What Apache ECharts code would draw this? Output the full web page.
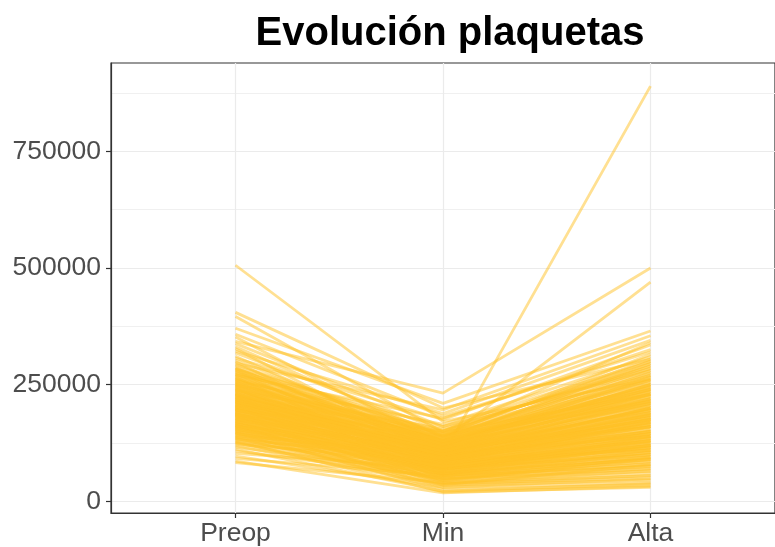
<!DOCTYPE html>
<html>
<head>
<meta charset="utf-8">
<script src="https://cdn.jsdelivr.net/npm/echarts@6/dist/echarts.min.js"></script>
<style>
    html, body { margin: 0; padding: 0; background: #fff; }
    #myChart { width: 775px; height: 547px; }
</style>
</head>
<body>
<div id="myChart"></div>
<script>
    // momentos de medida
    var momentos = ['Preop', 'Min', 'Alta'];
    var yTicks = [0, 250000, 500000, 750000];
    var yMinor = [125000, 375000, 625000, 875000];

    // plaquetas por paciente
    var preop = [
        506000, 405000, 396000, 371000, 358000, 352000, 343000, 338000, 331000, 327000,
        322000, 318000, 311000, 307000, 303000, 299000, 296000, 291000, 287000, 284000,
        281000, 279000, 276000, 273000, 271000, 268000, 266000, 263000, 261000, 258000,
        256000, 254000, 251000, 249000, 247000, 245000, 243000, 240000, 238000, 236000,
        235000, 233000, 231000, 229000, 227000, 225000, 224000, 222000, 220000, 218000,
        217000, 215000, 213000, 212000, 210000, 208000, 207000, 205000, 203000, 202000,
        200000, 198000, 197000, 195000, 194000, 192000, 190000, 189000, 187000, 186000,
        184000, 183000, 181000, 180000, 178000, 176000, 175000, 173000, 172000, 170000,
        169000, 167000, 166000, 164000, 163000, 161000, 160000, 158000, 157000, 155000,
        154000, 152000, 150000, 149000, 147000, 146000, 144000, 142000, 141000, 139000,
        137000, 135000, 133000, 131000, 129000, 127000, 125000, 122000, 119000, 116000,
        112000, 108000, 103000, 97000, 92000, 86000, 83000, 229000, 262000, 195000,
        285000, 241000, 199000, 168000, 214000, 256000, 177000, 226000, 148000, 293000,
        188000, 232000, 159000, 205000, 272000, 219000, 183000, 138000, 249000, 196000,
        211000, 265000, 174000, 228000, 153000, 190000, 242000, 206000, 163000, 277000,
        221000, 185000, 250000, 135000, 201000, 237000, 171000, 215000, 259000, 145000,
        192000, 230000, 166000, 208000, 283000, 178000, 223000, 156000, 246000, 197000,
        213000, 270000, 182000, 126000, 239000, 203000, 162000, 253000, 187000, 218000
    ];
    var minimo = [
        171000, 200000, 148000, 210000, 182000, 121000, 232000, 160000, 138000, 96000,
        188000, 152000, 112000, 175000, 130000, 84000, 196000, 142000, 105000, 160000,
        70000, 125000, 150000, 98000, 178000, 115000, 62000, 140000, 100000, 165000,
        88000, 120000, 145000, 76000, 110000, 132000, 55000, 102000, 155000, 92000,
        118000, 68000, 140000, 105000, 82000, 125000, 48000, 96000, 150000, 110000,
        74000, 130000, 90000, 58000, 115000, 100000, 135000, 80000, 40000, 105000,
        122000, 88000, 66000, 112000, 140000, 95000, 52000, 108000, 80000, 128000,
        35000, 98000, 72000, 115000, 90000, 60000, 104000, 125000, 45000, 85000,
        110000, 70000, 95000, 30000, 100000, 78000, 118000, 56000, 88000, 65000,
        102000, 42000, 80000, 95000, 25000, 70000, 88000, 50000, 100000, 62000,
        78000, 38000, 90000, 55000, 20000, 72000, 48000, 85000, 35000, 60000,
        22000, 50000, 70000, 30000, 55000, 18000, 40000, 100000, 130000, 150000,
        120000, 95000, 82000, 64000, 108000, 133000, 75000, 112000, 58000, 145000,
        90000, 118000, 67000, 99000, 138000, 103000, 86000, 44000, 124000, 92000,
        106000, 128000, 71000, 116000, 60000, 94000, 126000, 101000, 69000, 141000,
        113000, 84000, 131000, 46000, 97000, 120000, 77000, 109000, 136000, 53000,
        93000, 117000, 73000, 104000, 143000, 81000, 111000, 63000, 127000, 89000,
        107000, 134000, 87000, 36000, 122000, 100000, 74000, 129000, 91000, 114000
    ];
    var alta = [
        262000, 305000, 230000, 365000, 320000, 250000, 500000, 280000, 210000, 175000,
        345000, 290000, 160000, 335000, 240000, 130000, 355000, 215000, 185000, 300000,
        120000, 205000, 270000, 150000, 325000, 190000, 95000, 245000, 140000, 310000,
        110000, 220000, 260000, 125000, 170000, 235000, 75000, 200000, 285000, 155000,
        195000, 100000, 255000, 180000, 135000, 230000, 65000, 160000, 295000, 185000,
        115000, 225000, 145000, 90000, 210000, 165000, 240000, 130000, 55000, 175000,
        215000, 140000, 105000, 190000, 275000, 150000, 80000, 200000, 120000, 230000,
        45000, 165000, 110000, 205000, 145000, 95000, 180000, 250000, 70000, 135000,
        195000, 100000, 160000, 40000, 175000, 115000, 220000, 85000, 140000, 105000,
        185000, 60000, 125000, 170000, 35000, 110000, 150000, 75000, 200000, 90000,
        130000, 50000, 160000, 85000, 30000, 120000, 70000, 145000, 55000, 100000,
        38000, 80000, 115000, 48000, 92000, 32000, 65000, 890000, 470000, 340000,
        265000, 190000, 170000, 125000, 215000, 280000, 150000, 235000, 110000, 300000,
        180000, 245000, 135000, 200000, 290000, 220000, 165000, 90000, 255000, 185000,
        210000, 270000, 140000, 240000, 120000, 175000, 260000, 205000, 130000, 315000,
        225000, 160000, 275000, 95000, 195000, 250000, 145000, 230000, 285000, 105000,
        188000, 242000, 138000, 212000, 305000, 155000, 228000, 118000, 262000, 178000,
        218000, 295000, 168000, 78000, 248000, 198000, 128000, 268000, 172000, 236000
    ];

    var series = [];
    for (var i = 0; i < preop.length; i++) {
        series.push({
            type: 'line',
            data: [[1, preop[i]], [2, minimo[i]], [3, alta[i]]],
            symbol: 'none',
            silent: true,
            lineStyle: { color: 'rgba(255,193,37,0.5)', width: 2.8, cap: 'butt' }
        });
    }

    var fuente = 'Liberation Sans, Arial, Helvetica, sans-serif';
    var myChart = echarts.init(document.getElementById('myChart'));
    myChart.setOption({
        animation: false,
        backgroundColor: '#fff',
        title: {
            text: 'Evolución plaquetas',
            left: 445,
            top: 9,
            textAlign: 'center',
            textStyle: { fontFamily: fuente, fontSize: 40, fontWeight: 'bold', color: '#000' }
        },
        grid: {
            left: 111, top: 63, width: 668, height: 451,
            show: true, borderColor: '#333', borderWidth: 1.2, backgroundColor: 'transparent'
        },
        xAxis: {
            type: 'value',
            min: 0.4,
            max: 3.6,
            axisLine: { show: true, onZero: false, lineStyle: { color: '#333', width: 1.2 } },
            axisTick: { show: true, length: 5, customValues: [1, 2, 3], lineStyle: { color: '#333', width: 1.2 } },
            axisLabel: {
                customValues: [1, 2, 3],
                formatter: function (v) { return momentos[Math.round(v) - 1]; },
                fontFamily: fuente, fontSize: 26.5, color: '#4d4d4d', margin: 7
            },
            splitLine: { show: true, lineStyle: { color: '#ebebeb', width: 1.2 } }
        },
        yAxis: [{
            type: 'value',
            min: -25000,
            max: 939500,
            axisLine: { show: true, onZero: false, lineStyle: { color: '#333', width: 1.2 } },
            axisTick: { show: true, length: 5, customValues: yTicks, lineStyle: { color: '#333', width: 1.2 } },
            axisLabel: {
                customValues: yTicks,
                formatter: function (v) { return String(v); },
                fontFamily: fuente, fontSize: 26.5, color: '#4d4d4d', margin: 10
            },
            splitLine: { show: true, lineStyle: { color: '#ebebeb', width: 1.2 } }
        }, {
            type: 'value',
            position: 'left',
            min: -25000,
            max: 939500,
            axisLine: { show: false },
            axisTick: { show: false, customValues: yMinor },
            axisLabel: { show: false, customValues: yMinor },
            splitLine: { show: true, lineStyle: { color: '#f0f0f0', width: 1 } }
        }],
        series: series
    });
</script>
</body>
</html>
